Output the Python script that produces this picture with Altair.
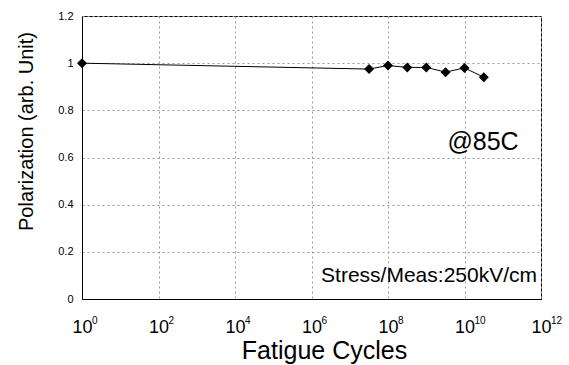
import altair as alt
import pandas as pd

cycles = [1, 3.2e7, 1e8, 3.2e8, 1e9, 3.2e9, 1e10, 3.2e10]
polarization = [1.0, 0.975, 0.99, 0.982, 0.982, 0.962, 0.98, 0.94]
x_ticks = [1, 1e2, 1e4, 1e6, 1e8, 1e10, 1e12]
x_exponents = ["0", "2", "4", "6", "8", "10", "12"]
y_ticks = [0, 0.2, 0.4, 0.6, 0.8, 1, 1.2]

df = pd.DataFrame({"cycles": cycles, "pol": polarization})
exp_df = pd.DataFrame({"tick": x_ticks, "exp": x_exponents})

FONT = "Liberation Sans"

x_scale = alt.Scale(type="log", domain=[1, 1e12], nice=False)

x_enc = alt.X(
    "cycles:Q",
    scale=x_scale,
    axis=alt.Axis(
        values=x_ticks,
        labelExpr="'10'",
        labelFont=FONT, labelFontSize=18, labelColor="black", labelPadding=19,
        labelFlush=False, labelOverlap=False,
        ticks=False, domainColor="black",
        grid=True, gridColor="#999", gridDash=[2, 3], gridWidth=1,
        title="Fatigue Cycles", titleFont=FONT, titleFontSize=25,
        titleFontWeight="normal", titleColor="black",
        titleX=242, titleY=59, titleBaseline="alphabetic", titleAlign="center",
    ),
)
y_enc = alt.Y(
    "pol:Q",
    scale=alt.Scale(domain=[0, 1.2], nice=False),
    axis=alt.Axis(
        values=y_ticks,
        labelExpr="format(datum.value, '~g')",
        labelFont=FONT, labelFontSize=11, labelColor="black", labelPadding=9,
        ticks=False, domainColor="black",
        grid=True, gridColor="#999", gridDash=[2, 3], gridWidth=1,
        title="Polarization (arb. Unit)", titleFont=FONT, titleFontSize=20,
        titleFontWeight="normal", titleColor="black",
        titleX=-50, titleY=115, titleBaseline="alphabetic", titleAlign="center",
    ),
)

line = alt.Chart(df).mark_line(color="black", strokeWidth=1).encode(x=x_enc, y=y_enc)
pts = alt.Chart(df).mark_point(shape="diamond", filled=True, color="black", size=100, opacity=1).encode(x="cycles:Q", y="pol:Q")

exps = alt.Chart(exp_df).mark_text(font=FONT, fontSize=10, align="left", baseline="alphabetic",
                                   color="black", dx=10).encode(
    x=alt.X("tick:Q", scale=x_scale), y=alt.value(308), text="exp:N")

ann = pd.DataFrame({"t": ["@85C"]})
t1 = alt.Chart(ann).mark_text(font=FONT, fontSize=25, align="center", baseline="middle", color="black").encode(
    text="t:N", x=alt.value(401), y=alt.value(126))
ann2 = pd.DataFrame({"t": ["Stress/Meas:250kV/cm"]})
t2 = alt.Chart(ann2).mark_text(font=FONT, fontSize=21, align="right", baseline="middle", color="black").encode(
    text="t:N", x=alt.value(455), y=alt.value(260))

chart = alt.layer(line, pts, exps, t1, t2).properties(
    width=459, height=283,
    autosize=alt.AutoSizeParams(type="none"),
    padding={"left": 82, "top": 16, "right": 28, "bottom": 66},
    background="white",
).configure_view(stroke="black", strokeWidth=1)

chart.save("out.html", embed_options={"renderer": "svg", "actions": False})
